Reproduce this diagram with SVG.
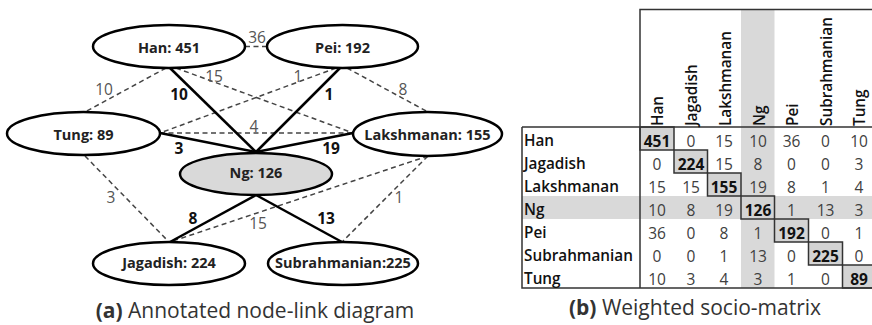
<svg xmlns="http://www.w3.org/2000/svg" width="872" height="325" viewBox="0 0 872 325">
<style>
.node{fill:#fff;stroke:#000;stroke-width:2.5}
.nl{font-family:"Open Sans","Liberation Sans",sans-serif;font-size:14.5px;font-weight:700;fill:#222;text-anchor:middle}
.solid{stroke:#000;stroke-width:2.5;fill:none}
.dash{stroke:#444;stroke-width:1.5;stroke-dasharray:5 3.5;fill:none}
.el{font-family:"Open Sans","Liberation Sans",sans-serif;font-size:15.5px;fill:#555;text-anchor:middle}
.elb{font-family:"Open Sans","Liberation Sans",sans-serif;font-size:15.5px;font-weight:700;fill:#111;text-anchor:middle}
.cap{font-family:"Open Sans","Liberation Sans",sans-serif;font-size:21px;fill:#333;text-anchor:middle}
.grid{stroke:#333;stroke-width:1.5;fill:none}
.lab{font-family:"Open Sans","Liberation Sans",sans-serif;font-size:15.3px;font-weight:600;fill:#111}
.num{font-family:"Open Sans","Liberation Sans",sans-serif;font-size:15.5px;fill:#404040;text-anchor:middle}
.dg{font-weight:700;fill:#111}
.band{fill:#d9d9d9}
.diag{fill:#d4d4d4;stroke:#333;stroke-width:1.5}
</style>
<rect width="872" height="325" fill="#fff"/>
<g id="connectors">
<line class="dash" x1="245" y1="46.5" x2="267" y2="46.5"/>
<line class="dash" x1="166" y1="68" x2="85" y2="112"/>
<line class="dash" x1="176" y1="68" x2="353" y2="133"/>
<line class="dash" x1="336" y1="68" x2="160" y2="133"/>
<line class="dash" x1="347" y1="68" x2="428" y2="112"/>
<line class="dash" x1="160" y1="133" x2="353" y2="133"/>
<line class="dash" x1="85" y1="156" x2="168" y2="241"/>
<line class="dash" x1="428" y1="156" x2="173" y2="241"/>
<line class="dash" x1="428" y1="156" x2="343" y2="241"/>
<line class="solid" x1="170" y1="68" x2="256" y2="152"/>
<line class="solid" x1="340" y1="68" x2="256" y2="152"/>
<line class="solid" x1="160" y1="133" x2="256" y2="152"/>
<line class="solid" x1="353" y1="133" x2="256" y2="152"/>
<line class="solid" x1="256" y1="195" x2="170" y2="242"/>
<line class="solid" x1="256" y1="195" x2="342" y2="242"/>
<text class="el" x="257" y="43">36</text>
<text class="el" x="104" y="95">10</text>
<text class="el" x="214" y="82">15</text>
<text class="el" x="298" y="82">1</text>
<text class="el" x="403" y="95">8</text>
<text class="el" x="254" y="132">4</text>
<text class="el" x="111" y="203">3</text>
<text class="el" x="258" y="229">15</text>
<text class="el" x="399" y="203">1</text>
<text class="elb" x="179" y="100">10</text>
<text class="elb" x="329" y="100">1</text>
<text class="elb" x="179" y="154">3</text>
<text class="elb" x="331" y="154">19</text>
<text class="elb" x="193" y="224">8</text>
<text class="elb" x="326" y="224">13</text>
</g>
<g id="node-han"><ellipse class="node" cx="169" cy="46.5" rx="76" ry="21.5"/><text class="nl" x="169" y="53">Han: 451</text></g>
<g id="node-pei"><ellipse class="node" cx="342.5" cy="46.5" rx="75.5" ry="21.5"/><text class="nl" x="342.5" y="53">Pei: 192</text></g>
<g id="node-tung"><ellipse class="node" cx="83.5" cy="133.5" rx="76.5" ry="21.5"/><text class="nl" x="83.5" y="140">Tung: 89</text></g>
<g id="node-lakshmanan"><ellipse class="node" cx="427.5" cy="134" rx="74.5" ry="22"/><text class="nl" x="427.5" y="140">Lakshmanan: 155</text></g>
<g id="node-ng"><ellipse class="node" cx="256" cy="174" rx="76" ry="21" style="fill:#d9d9d9"/><text class="nl" x="256" y="178">Ng: 126</text></g>
<g id="node-jagadish"><ellipse class="node" cx="169" cy="263.5" rx="76" ry="21.5"/><text class="nl" x="169" y="268">Jagadish: 224</text></g>
<g id="node-subrahmanian"><ellipse class="node" cx="343" cy="263.5" rx="75" ry="21.5"/><text class="nl" x="343" y="268">Subrahmanian:225</text></g>
<text class="cap" x="255" y="318"><tspan font-weight="700">(a)</tspan> Annotated node-link diagram</text>
<g id="matrix">
<rect class="band" x="741" y="9.5" width="33.5" height="278.5"/>
<rect class="band" x="522" y="196" width="350" height="23"/>
<rect class="diag" x="640" y="127" width="34" height="23"/>
<rect class="diag" x="674" y="150" width="33.5" height="23"/>
<rect class="diag" x="707.5" y="173" width="33.5" height="23"/>
<rect class="diag" x="741" y="196" width="33.5" height="23"/>
<rect class="diag" x="774.5" y="219" width="34" height="23"/>
<rect class="diag" x="808.5" y="242" width="34" height="23"/>
<rect class="diag" x="842.5" y="265" width="34" height="23"/>
<path class="grid" d="M640 288V9.5H872M522 127H872M522 127V288H872"/>
<g class="lab">
<text transform="translate(663,126) rotate(-90)">Han</text>
<text transform="translate(697,126) rotate(-90)">Jagadish</text>
<text transform="translate(731,126) rotate(-90)">Lakshmanan</text>
<text transform="translate(765,126) rotate(-90)">Ng</text>
<text transform="translate(798,126) rotate(-90)">Pei</text>
<text transform="translate(832,126) rotate(-90)">Subrahmanian</text>
<text transform="translate(865,126) rotate(-90)">Tung</text>
<text x="524" y="146">Han</text>
<text x="524" y="169">Jagadish</text>
<text x="524" y="192">Lakshmanan</text>
<text x="524" y="215">Ng</text>
<text x="524" y="238">Pei</text>
<text x="524" y="261">Subrahmanian</text>
<text x="524" y="284">Tung</text>
</g>
<g class="num">
<text x="657" y="146.5" class="dg">451</text><text x="691" y="146.5">0</text><text x="724" y="146.5">15</text><text x="758" y="146.5">10</text><text x="791.5" y="146.5">36</text><text x="825.5" y="146.5">0</text><text x="859" y="146.5">10</text>
<text x="657" y="169.5">0</text><text x="691" y="169.5" class="dg">224</text><text x="724" y="169.5">15</text><text x="758" y="169.5">8</text><text x="791.5" y="169.5">0</text><text x="825.5" y="169.5">0</text><text x="859" y="169.5">3</text>
<text x="657" y="192.5">15</text><text x="691" y="192.5">15</text><text x="724" y="192.5" class="dg">155</text><text x="758" y="192.5">19</text><text x="791.5" y="192.5">8</text><text x="825.5" y="192.5">1</text><text x="859" y="192.5">4</text>
<text x="657" y="215.5">10</text><text x="691" y="215.5">8</text><text x="724" y="215.5">19</text><text x="758" y="215.5" class="dg">126</text><text x="791.5" y="215.5">1</text><text x="825.5" y="215.5">13</text><text x="859" y="215.5">3</text>
<text x="657" y="238.5">36</text><text x="691" y="238.5">0</text><text x="724" y="238.5">8</text><text x="758" y="238.5">1</text><text x="791.5" y="238.5" class="dg">192</text><text x="825.5" y="238.5">0</text><text x="859" y="238.5">1</text>
<text x="657" y="261.5">0</text><text x="691" y="261.5">0</text><text x="724" y="261.5">1</text><text x="758" y="261.5">13</text><text x="791.5" y="261.5">0</text><text x="825.5" y="261.5" class="dg">225</text><text x="859" y="261.5">0</text>
<text x="657" y="284.5">10</text><text x="691" y="284.5">3</text><text x="724" y="284.5">4</text><text x="758" y="284.5">3</text><text x="791.5" y="284.5">1</text><text x="825.5" y="284.5">0</text><text x="859" y="284.5" class="dg">89</text>
</g>
</g>
<text class="cap" x="695" y="315"><tspan font-weight="700">(b)</tspan> Weighted socio-matrix</text>
</svg>
